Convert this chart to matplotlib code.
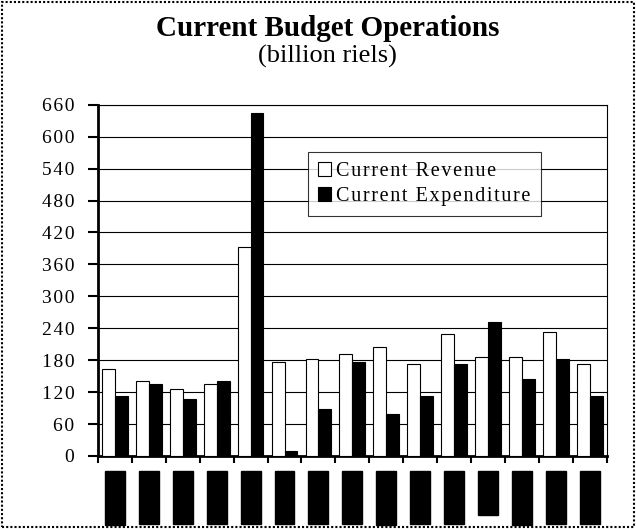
import numpy as np
import matplotlib.pyplot as plt
from matplotlib.patches import Rectangle

# data (billion riels)
periods = ["1994 Q1", "1994 Q2", "1994 Q3", "1994 Q4", "1995 Q1", "1995 Q2",
           "1995 Q3", "1995 Q4", "1996 Q1", "1996 Q2", "1996 Q3", "Oct-96",
           "1997 Q1", "1997 Q2", "1997 Q3"]
revenue = [163, 140, 125, 135, 392, 177, 182, 191, 204, 172, 229, 186, 186, 233, 172]
expenditure = [112, 135, 107, 140, 645, 9, 88, 177, 79, 112, 173, 252, 145, 182, 112]
yticks = [0, 60, 120, 180, 240, 300, 360, 420, 480, 540, 600, 660]

plt.rcParams['font.family'] = ['Liberation Serif', 'DejaVu Serif']


def spaced(s):
    # the original uses a loose letter spacing
    return '\u200a'.join(s)


fig = plt.figure(figsize=(6.36, 5.29), dpi=100)
ax = fig.add_axes([0.154, 0.138, 0.8, 0.664])

x = np.arange(len(periods))
w = 0.38
ax.bar(x - w/2, revenue, w, color='white', edgecolor='black', linewidth=0.8,
       label=spaced('Current Revenue'), zorder=3)
ax.bar(x + w/2, expenditure, w, color='black', edgecolor='black', linewidth=0.8,
       label=spaced('Current Expenditure'), zorder=3)

ax.set_ylim(0, 660)
ax.set_xlim(-0.5, len(periods) - 0.5)
ax.set_yticks(yticks)
ax.set_yticklabels([spaced(str(v)) for v in yticks], fontsize=14)
ax.yaxis.grid(True, color='black', linewidth=0.8, zorder=0)
ax.tick_params(axis='y', direction='out', length=7, width=1.5, pad=10)

# group boundary ticks on the x axis
ax.set_xticks(np.arange(len(periods) + 1) - 0.5)
ax.set_xticklabels([])
ax.tick_params(axis='x', direction='out', length=5, width=1.5)

# blacked-out category labels
for i, lab in enumerate(periods):
    ax.text(i, -35, lab, rotation=90, ha='center', va='top', fontsize=9.5,
            color='black',
            bbox=dict(boxstyle='square,pad=0.3', facecolor='black', edgecolor='black'))

for s in ['left', 'bottom']:
    ax.spines[s].set_linewidth(2)
ax.spines['right'].set_linewidth(0.8)
ax.spines['top'].set_linewidth(0.8)

leg = ax.legend(loc='upper left', bbox_to_anchor=(0.413, 0.866), fontsize=14.5,
                frameon=True, fancybox=False, edgecolor='black', borderaxespad=0,
                handlelength=0.65, handleheight=0.65, handletextpad=0.25,
                borderpad=0.5, labelspacing=0.3)
leg.get_frame().set_linewidth(0.8)

fig.text(0.515, 0.946, 'Current Budget Operations', ha='center', va='center',
         fontsize=21, fontweight='bold')
fig.text(0.515, 0.893, '(billion riels)', ha='center', va='center', fontsize=19)

fig.patches.append(Rectangle((0.003, 0.003), 0.994, 0.994, transform=fig.transFigure,
                             fill=False, edgecolor='black', linestyle=(0, (1, 1)),
                             linewidth=1.5))

fig.savefig('out.png', dpi=100)
